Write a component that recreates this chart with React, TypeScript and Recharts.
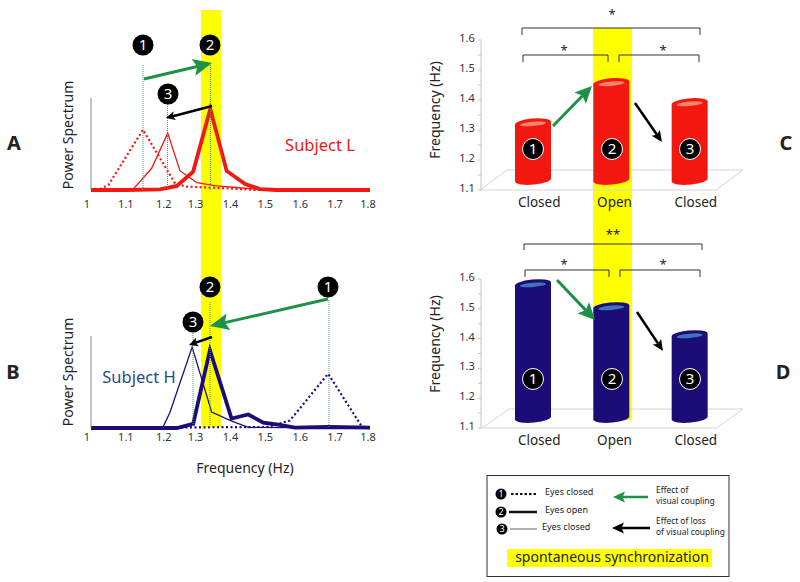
import { LineChart, Line, BarChart, Bar, XAxis, YAxis } from "recharts";

const FONT = "'Noto Sans', sans-serif";
const RED = "#f2180f";
const NAVY = "#1b0c78";

const freqTicks = [1, 1.1, 1.2, 1.3, 1.4, 1.5, 1.6, 1.7, 1.8];
const freqTickNudge: Record<string, number> = { "1": -4, "1.2": 3, "1.8": -2 };

// Subject L spectra
const lClosedFreq = [1, 1.026, 1.05, 1.149, 1.241, 1.274, 1.35, 1.475, 1.8];
const lClosedPower = [0, 0.011, 0.055, 0.655, 0.073, 0.036, 0.025, 0, 0];
const lOpenFreq = [1, 1.1, 1.198, 1.246, 1.293, 1.342, 1.389, 1.442, 1.485, 1.532, 1.8];
const lOpenPower = [0, 0, 0.007, 0.044, 0.2, 0.88, 0.207, 0.065, 0.01, 0, 0];
const lAfterFreq = [1, 1.121, 1.174, 1.22, 1.255, 1.303, 1.36, 1.408, 1.48, 1.8];
const lAfterPower = [0, 0.01, 0.236, 0.618, 0.21, 0.08, 0.044, 0.03, 0.007, 0];

// Subject H spectra
const hClosedFreq = [1, 1.29, 1.504, 1.57, 1.68, 1.776, 1.8];
const hClosedPower = [0, 0.007, 0.011, 0.08, 0.59, 0.018, 0];
const hOpenFreq = [1, 1.246, 1.293, 1.341, 1.403, 1.451, 1.494, 1.537, 1.585, 1.68, 1.8];
const hOpenPower = [0, 0, 0.044, 0.846, 0.103, 0.147, 0.059, 0.037, 0.004, 0.011, 0.004];
const hAfterFreq = [1, 1.205, 1.226, 1.29, 1.346, 1.4, 1.451, 1.8];
const hAfterPower = [0, 0, 0.165, 0.88, 0.173, 0.08, 0.007, 0];

// Group means
const conditions = ["Closed", "Open", "Closed "];
const meansL = [1.323, 1.457, 1.39];
const meansH = [1.583, 1.506, 1.412];
const freqAxisTicks = [1.1, 1.15, 1.2, 1.25, 1.3, 1.35, 1.4, 1.45, 1.5, 1.55, 1.6];

const zip = (f: number[], p: number[]) => f.map((v, i) => ({ f: v, p: p[i] }));
const meanRows = (vals: number[]) => conditions.map((c, i) => ({ c, v: vals[i] }));

const freqTick = (dy: number) => (props: any) => {
  const { x, y, payload } = props;
  const label = String(payload.value);
  return (
    <text x={x + (freqTickNudge[label] || 0)} y={y + dy} textAnchor="middle" fontSize={11} fontFamily={FONT} fill="#333">
      {label}
    </text>
  );
};

const hzTick = (props: any) => {
  const { x, y, payload } = props;
  const major = Math.round(payload.value * 100) % 10 === 0;
  return (
    <g>
      <line x1={x - 3} x2={x} y1={y} y2={y} stroke="#c4c4c4" />
      {major && (
        <text x={x - 14} y={y + 2} textAnchor="middle" fontSize={11} fontFamily={FONT} fill="#333">
          {payload.value.toFixed(1)}
        </text>
      )}
    </g>
  );
};

const conditionTick = (props: any) => {
  const { x, y, payload } = props;
  const nudge = payload.value === "Open" ? 3 : 6;
  return (
    <text x={x + nudge} y={y + 8.5} textAnchor="middle" fontSize={13.5} fontFamily={FONT} fill="#222">
      {payload.value.trim()}
    </text>
  );
};

const cylinder = (body: string, shine: string) => (props: any) => {
  const { x, y, width, height } = props;
  const rx = width / 2;
  const top = y;
  const bot = y + height - 10;
  const cx = x + rx;
  return (
    <g>
      <path
        d={`M${x},${top + 1.8} A${rx},4.6 -5 0 1 ${x + width},${top - 1.8} L${x + width},${bot - 1.8} A${rx},4.6 -5 0 1 ${x},${bot + 1.8} Z`}
        fill={body}
      />
      <ellipse cx={cx} cy={top + 0.8} rx={rx - 5} ry={2.2} fill={shine} transform={`rotate(-5 ${cx} ${top + 0.8})`} />
    </g>
  );
};

function Spectrum(props: { top: number; stroke: string; closed: any[]; open: any[]; after: any[]; dy: number; axis: string }) {
  const { top, stroke, closed, open, after, dy, axis } = props;
  return (
    <div style={{ position: "absolute", left: 0, top }}>
      <LineChart width={400} height={122} margin={{ top: 0, left: 90, right: 30, bottom: 0 }}>
        <XAxis type="number" dataKey="f" domain={[1, 1.8]} ticks={freqTicks} height={30} axisLine={false} tickLine={false} tick={freqTick(dy)} interval={0} />
        <YAxis type="number" dataKey="p" domain={[0, 1]} width={1} tick={false} tickLine={false} stroke={axis} />
        <Line data={closed} dataKey="p" type="linear" stroke={stroke} strokeWidth={2.2} strokeDasharray="2 2.5" dot={false} isAnimationActive={false} />
        <Line data={after} dataKey="p" type="linear" stroke={stroke} strokeWidth={1.3} dot={false} isAnimationActive={false} />
        <Line data={open} dataKey="p" type="linear" stroke={stroke} strokeWidth={3.8} dot={false} isAnimationActive={false} />
      </LineChart>
    </div>
  );
}

function Means(props: { top: number; rows: any[]; body: string; shine: string; plotH: number }) {
  const { top, rows, body, shine, plotH } = props;
  return (
    <div style={{ position: "absolute", left: 420, top: top - 12 }}>
      <BarChart width={380} height={plotH + 52} data={rows} barSize={36} margin={{ top: 12, left: 60, right: 71, bottom: 0 }}>
        <XAxis dataKey="c" height={40} axisLine={false} tickLine={false} tick={conditionTick} padding={{ left: 13, right: 0 }} interval={0} />
        <YAxis type="number" domain={[1.1, 1.6]} ticks={freqAxisTicks} width={1} interval={0} tickLine={false} tickSize={0} tickMargin={0} tick={hzTick} stroke="#c4c4c4" allowDataOverflow />
        <Bar dataKey="v" shape={cylinder(body, shine)} isAnimationActive={false} />
      </BarChart>
    </div>
  );
}

function Arrow(props: { x1: number; y1: number; x2: number; y2: number; color: string; w: number; len: number; half: number }) {
  const { x1, y1, x2, y2, color, w, len, half } = props;
  const a = Math.atan2(y2 - y1, x2 - x1);
  const ux = Math.cos(a);
  const uy = Math.sin(a);
  const bx = x2 - ux * len;
  const by = y2 - uy * len;
  const nx = x2 - ux * len * 0.8;
  const ny = y2 - uy * len * 0.8;
  return (
    <g>
      <line x1={x1} y1={y1} x2={nx} y2={ny} stroke={color} strokeWidth={w} />
      <polygon
        points={`${x2},${y2} ${bx - uy * half},${by + ux * half} ${nx},${ny} ${bx + uy * half},${by - ux * half}`}
        fill={color}
      />
    </g>
  );
}

function Badge(props: { cx: number; cy: number; n: number; r?: number; ring?: boolean; size?: number }) {
  const { cx, cy, n, r = 10.5, ring, size = 15 } = props;
  return (
    <g>
      <circle cx={cx} cy={cy} r={r} fill="#000" stroke={ring ? "#fff" : "none"} strokeWidth={1} />
      <text x={cx} y={cy + size * 0.36} textAnchor="middle" fontSize={size} fontFamily={FONT} fill="#fff">
        {n}
      </text>
    </g>
  );
}

function Bracket(props: { x1: number; x2: number; y: number; drop: number }) {
  const { x1, x2, y, drop } = props;
  return <path d={`M${x1},${y + drop} V${y} H${x2} V${y + drop}`} fill="none" stroke="#333" strokeWidth={1} />;
}

function Star(props: { x: number; y: number; s?: string }) {
  return (
    <text x={props.x} y={props.y + 6} textAnchor="middle" fontSize={13} fontFamily={FONT} fill="#222">
      {props.s || "*"}
    </text>
  );
}

function Txt(props: { x: number; y: number; size: number; children: string; color?: string; anchor?: string; rotate?: boolean; bold?: boolean }) {
  const { x, y, size, children, color = "#222", anchor = "middle", rotate, bold } = props;
  const tx = rotate ? x + 1 : x;
  const ty = rotate ? y : y + 1;
  return (
    <text
      x={tx}
      y={ty}
      fontSize={size}
      fontFamily={FONT}
      fill={color}
      fontWeight={bold ? 700 : 400}
      textAnchor={anchor as any}
      dominantBaseline="middle"
      transform={rotate ? `rotate(-90 ${tx} ${ty})` : undefined}
    >
      {children}
    </text>
  );
}

const GREEN = "#1d9148";
const GUIDE = "#3fa266";

export default function App() {
  return (
    <div style={{ position: "absolute", left: 0, top: 0, width: 800, height: 582, background: "#fff", overflow: "hidden" }}>
      <div style={{ position: "absolute", left: 201, top: 10, width: 20, height: 417, background: "#ffff00" }} />
      <div style={{ position: "absolute", left: 593, top: 28, width: 39, height: 392, background: "#ffff00" }} />

      <svg width={800} height={582} style={{ position: "absolute", left: 0, top: 0 }}>
        <path d="M480,190 L507,170 H743 L716,190 Z" fill="none" stroke="#d4d4d4" />
        <path d="M482,428 L509,409 H743 L717,428 Z" fill="none" stroke="#d4d4d4" />
      </svg>

      <Spectrum top={98} stroke={RED} closed={zip(lClosedFreq, lClosedPower)} open={zip(lOpenFreq, lOpenPower)} after={zip(lAfterFreq, lAfterPower)} dy={10} axis="#888" />
      <Spectrum top={336} stroke={NAVY} closed={zip(hClosedFreq, hClosedPower)} open={zip(hOpenFreq, hOpenPower)} after={zip(hAfterFreq, hAfterPower)} dy={5} axis="#888" />
      <Means top={40} rows={meanRows(meansL)} body={RED} shine="#f5826a" plotH={150} />
      <Means top={279} rows={meanRows(meansH)} body={NAVY} shine="#3f74b8" plotH={149} />

      <svg width={800} height={582} style={{ position: "absolute", left: 0, top: 0 }}>
        {/* panel A */}
        <g stroke={GUIDE} strokeWidth={1} strokeDasharray="1 1">
          <line x1={143} x2={143} y1={65} y2={190} />
          <line x1={210.5} x2={210.5} y1={65} y2={190} />
          <line x1={167.5} x2={167.5} y1={104} y2={190} />
          <line x1={193} x2={193} y1={333} y2={427} />
          <line x1={210} x2={210} y1={302} y2={427} />
          <line x1={329} x2={329} y1={300} y2={427} />
        </g>
        <Arrow x1={144} y1={79} x2={212} y2={63} color={GREEN} w={3} len={19} half={8.5} />
        <Arrow x1={212} y1={106} x2={166} y2={118} color="#000" w={2.5} len={9} half={4.5} />
        <Badge cx={143} cy={45} n={1} />
        <Badge cx={210} cy={45} n={2} />
        <Badge cx={168} cy={94} n={3} />
        <Txt x={320} y={146} size={16.5} color={RED}>Subject L</Txt>
        <Txt x={68} y={135} size={14} rotate>Power Spectrum</Txt>
        <Txt x={14} y={144} size={20} bold>A</Txt>

        {/* panel B */}
        <Arrow x1={328} y1={299} x2={210} y2={326} color={GREEN} w={3} len={19} half={8.5} />
        <Arrow x1={212} y1={337} x2={189} y2={345} color="#000" w={2.5} len={9} half={4.5} />
        <Badge cx={210} cy={287} n={2} />
        <Badge cx={328} cy={287} n={1} />
        <Badge cx={193} cy={322} n={3} />
        <Txt x={139} y={378} size={16.5} color="#28478a">Subject H</Txt>
        <Txt x={68} y={372} size={14} rotate>Power Spectrum</Txt>
        <Txt x={245} y={468} size={14}>Frequency (Hz)</Txt>
        <Txt x={13} y={373} size={20} bold>B</Txt>

        {/* panel C */}
        <Bracket x1={522} x2={700} y={28} drop={7} />
        <Bracket x1={523} x2={608} y={55} drop={7} />
        <Bracket x1={619} x2={699} y={55} drop={7} />
        <Star x={612} y={13} />
        <Star x={564} y={49} />
        <Star x={663} y={49} />
        <Arrow x1={553} y1={126} x2={592} y2={86} color={GREEN} w={3} len={17} half={8} />
        <Arrow x1={635} y1={103} x2={662} y2={142} color="#000" w={2.5} len={11} half={5} />
        <Badge cx={533} cy={149} n={1} ring />
        <Badge cx={612} cy={149} n={2} ring />
        <Badge cx={690} cy={149} n={3} ring />
        <Txt x={435} y={110} size={14} rotate>Frequency (Hz)</Txt>
        <Txt x={786} y={144} size={20} bold>C</Txt>

        {/* panel D */}
        <Bracket x1={524} x2={702} y={244} drop={6} />
        <Bracket x1={525} x2={609} y={270} drop={7} />
        <Bracket x1={620} x2={700} y={270} drop={7} />
        <Star x={613} y={233} s="**" />
        <Star x={564} y={263} />
        <Star x={663} y={263} />
        <Arrow x1={557} y1={280} x2={595} y2={320} color={GREEN} w={3} len={17} half={8} />
        <Arrow x1={637} y1={312} x2={663} y2={351} color="#000" w={2.5} len={11} half={5} />
        <Badge cx={533} cy={379} n={1} ring />
        <Badge cx={612} cy={379} n={2} ring />
        <Badge cx={690} cy={379} n={3} ring />
        <Txt x={435} y={344} size={14} rotate>Frequency (Hz)</Txt>
        <Txt x={783} y={373} size={20} bold>D</Txt>

        {/* key */}
        <rect x={487} y={475.5} width={242} height={101} fill="#fff" stroke="#333" />
        <rect x={507} y={549} width={205} height={18} fill="#ffff00" />
        <Txt x={612} y={557} size={14}>spontaneous synchronization</Txt>
        <Badge cx={501} cy={494} n={1} r={5.5} size={9} />
        <Badge cx={501} cy={512} n={2} r={5.5} size={9} />
        <Badge cx={502} cy={529} n={3} r={5.5} size={9} />
        <line x1={511} x2={537} y1={494} y2={494} stroke="#111" strokeWidth={2} strokeDasharray="2.5 2" />
        <line x1={509} x2={537} y1={512} y2={512} stroke="#111" strokeWidth={2.5} />
        <line x1={510} x2={537} y1={529} y2={529} stroke="#666" strokeWidth={1} />
        <Txt x={545} y={492} size={9} anchor="start">Eyes closed</Txt>
        <Txt x={545} y={510} size={9} anchor="start">Eyes open</Txt>
        <Txt x={542} y={527} size={9} anchor="start">Eyes closed</Txt>
        <Arrow x1={648} y1={497} x2={613} y2={497} color={GREEN} w={2.5} len={12} half={5.5} />
        <Arrow x1={650} y1={528} x2={612} y2={528} color="#000" w={2.5} len={12} half={5.5} />
        <Txt x={656} y={489.5} size={8.4} anchor="start">Effect of</Txt>
        <Txt x={656} y={501} size={8.4} anchor="start">visual coupling</Txt>
        <Txt x={656} y={520.5} size={8.4} anchor="start">Effect of loss</Txt>
        <Txt x={656} y={532} size={8.4} anchor="start">of visual coupling</Txt>
      </svg>
    </div>
  );
}
